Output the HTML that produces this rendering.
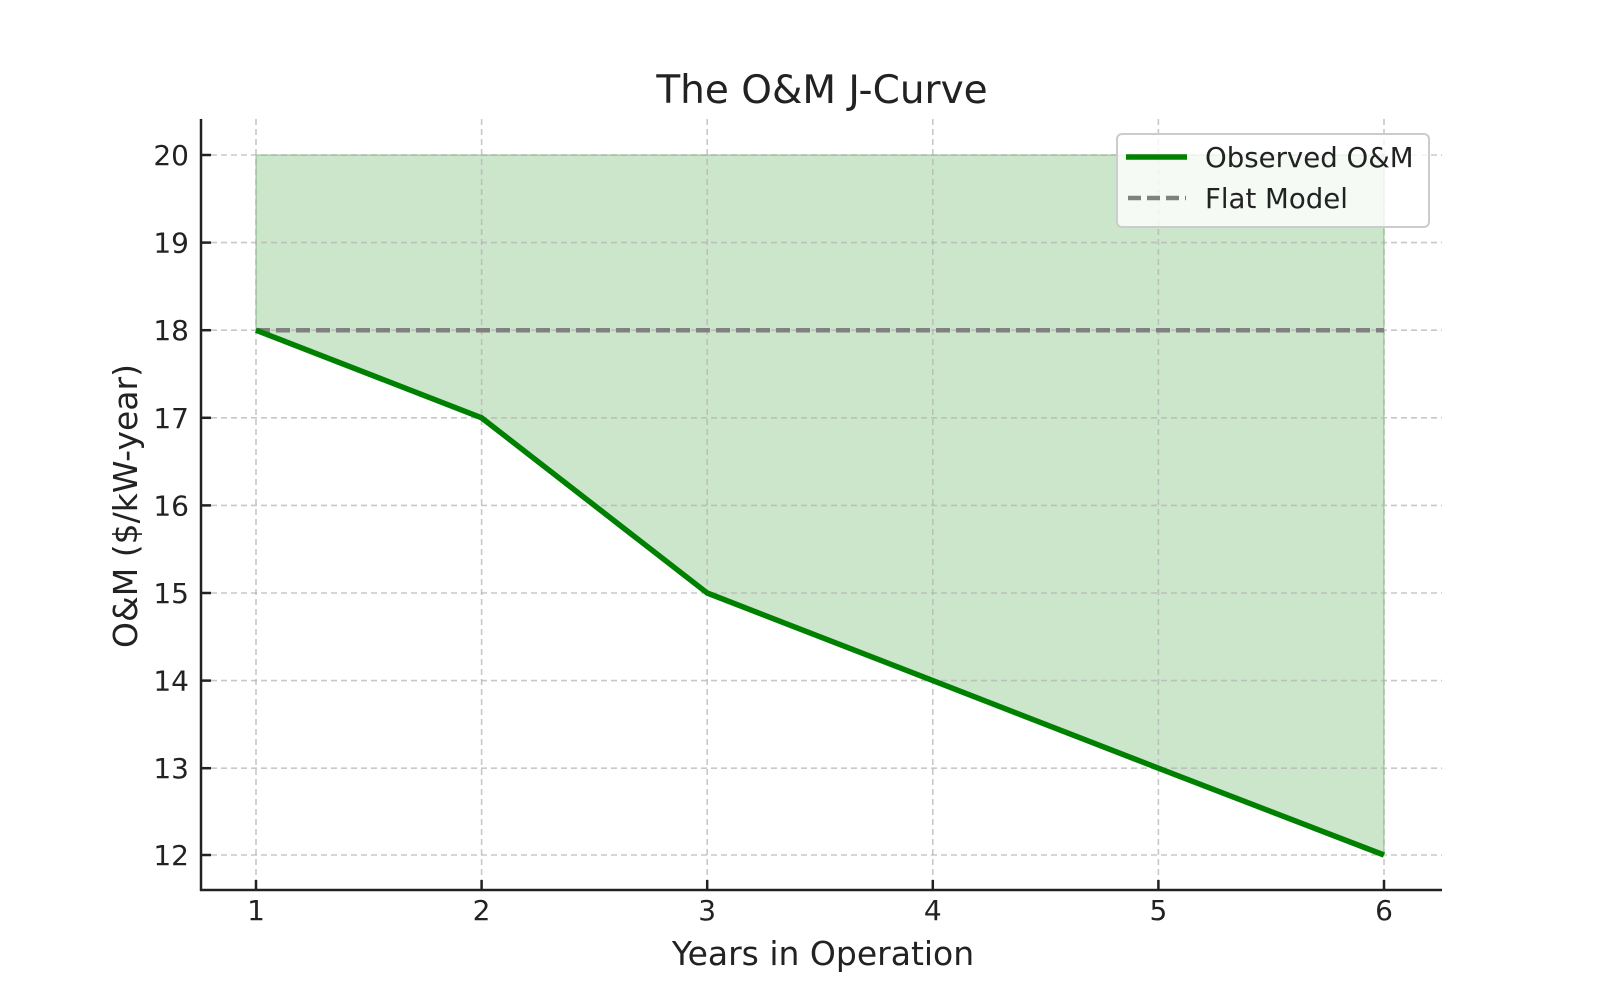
<!DOCTYPE html>
<html><head><meta charset="utf-8"><style>html,body{margin:0;padding:0;background:#fff}svg{display:block}text{font-family:"DejaVu Sans","Liberation Sans",sans-serif;fill:#222}</style></head>
<body>
<svg width="1600" height="1000" viewBox="0 0 1600 1000" xmlns="http://www.w3.org/2000/svg">
<rect width="1600" height="1000" fill="#fff"/>
<polygon points="256,155 1384,155 1384,855 1158.4,767.4 932.8,679.8 707.2,592.2 481.6,416.9 256,329.3" fill="#008000" fill-opacity="0.2" stroke="#008000" stroke-opacity="0.2" stroke-width="2"/>
<g stroke="#b0b0b0" stroke-opacity="0.7" stroke-width="1.6" stroke-dasharray="6,4">
<line x1="256" y1="119" x2="256" y2="890"/><line x1="481.6" y1="119" x2="481.6" y2="890"/><line x1="707.2" y1="119" x2="707.2" y2="890"/><line x1="932.8" y1="119" x2="932.8" y2="890"/><line x1="1158.4" y1="119" x2="1158.4" y2="890"/><line x1="1384" y1="119" x2="1384" y2="890"/>
<line x1="201" y1="155" x2="1442" y2="155"/><line x1="201" y1="242.6" x2="1442" y2="242.6"/><line x1="201" y1="330.2" x2="1442" y2="330.2"/><line x1="201" y1="417.8" x2="1442" y2="417.8"/><line x1="201" y1="505.4" x2="1442" y2="505.4"/><line x1="201" y1="593" x2="1442" y2="593"/><line x1="201" y1="680.6" x2="1442" y2="680.6"/><line x1="201" y1="768.2" x2="1442" y2="768.2"/><line x1="201" y1="855" x2="1442" y2="855"/>
</g>
<line x1="256" y1="330.2" x2="1384" y2="330.2" stroke="#808080" stroke-width="4.5" stroke-dasharray="14,6"/>
<polyline points="256,330.2 481.6,417.8 707.2,593 932.8,680.6 1158.4,768.2 1384,855" fill="none" stroke="#008000" stroke-width="5.5" stroke-linejoin="round"/>
<line x1="201" y1="119" x2="201" y2="891" stroke="#222" stroke-width="2.5"/>
<line x1="200" y1="890" x2="1442" y2="890" stroke="#222" stroke-width="2.5"/>
<g stroke="#222" stroke-width="2.5">
<line x1="256" y1="890" x2="256" y2="880"/><line x1="481.6" y1="890" x2="481.6" y2="880"/><line x1="707.2" y1="890" x2="707.2" y2="880"/><line x1="932.8" y1="890" x2="932.8" y2="880"/><line x1="1158.4" y1="890" x2="1158.4" y2="880"/><line x1="1384" y1="890" x2="1384" y2="880"/>
<line x1="201" y1="155" x2="211" y2="155"/><line x1="201" y1="242.6" x2="211" y2="242.6"/><line x1="201" y1="330.2" x2="211" y2="330.2"/><line x1="201" y1="417.8" x2="211" y2="417.8"/><line x1="201" y1="505.4" x2="211" y2="505.4"/><line x1="201" y1="593" x2="211" y2="593"/><line x1="201" y1="680.6" x2="211" y2="680.6"/><line x1="201" y1="768.2" x2="211" y2="768.2"/><line x1="201" y1="855" x2="211" y2="855"/>
</g>
<g font-size="28" text-anchor="middle">
<text x="256" y="920">1</text><text x="481.6" y="920">2</text><text x="707.2" y="920">3</text><text x="932.8" y="920">4</text><text x="1158.4" y="920">5</text><text x="1384" y="920">6</text>
</g>
<g font-size="28" text-anchor="end">
<text x="189" y="165">20</text><text x="189" y="252.6">19</text><text x="189" y="340.2">18</text><text x="189" y="427.8">17</text><text x="189" y="515.4">16</text><text x="189" y="603">15</text><text x="189" y="690.6">14</text><text x="189" y="778.2">13</text><text x="189" y="865">12</text>
</g>
<text x="822" y="103" font-size="39" text-anchor="middle" fill="#333">The O&amp;M J-Curve</text>
<text x="823" y="965" font-size="33" text-anchor="middle">Years in Operation</text>
<text transform="translate(137,506) rotate(-90)" font-size="33" text-anchor="middle">O&amp;M ($/kW-year)</text>
<rect x="1117" y="134" width="312" height="93" rx="5" fill="#fff" fill-opacity="0.8" stroke="#ccc" stroke-width="2"/>
<line x1="1126" y1="157" x2="1187" y2="157" stroke="#008000" stroke-width="5.5"/>
<line x1="1128" y1="198" x2="1186" y2="198" stroke="#808080" stroke-width="4.5" stroke-dasharray="13,6"/>
<text x="1205" y="167" font-size="27.6" fill="#333">Observed O&amp;M</text>
<text x="1205" y="208" font-size="27.6" fill="#333">Flat Model</text>
</svg>
</body></html>
